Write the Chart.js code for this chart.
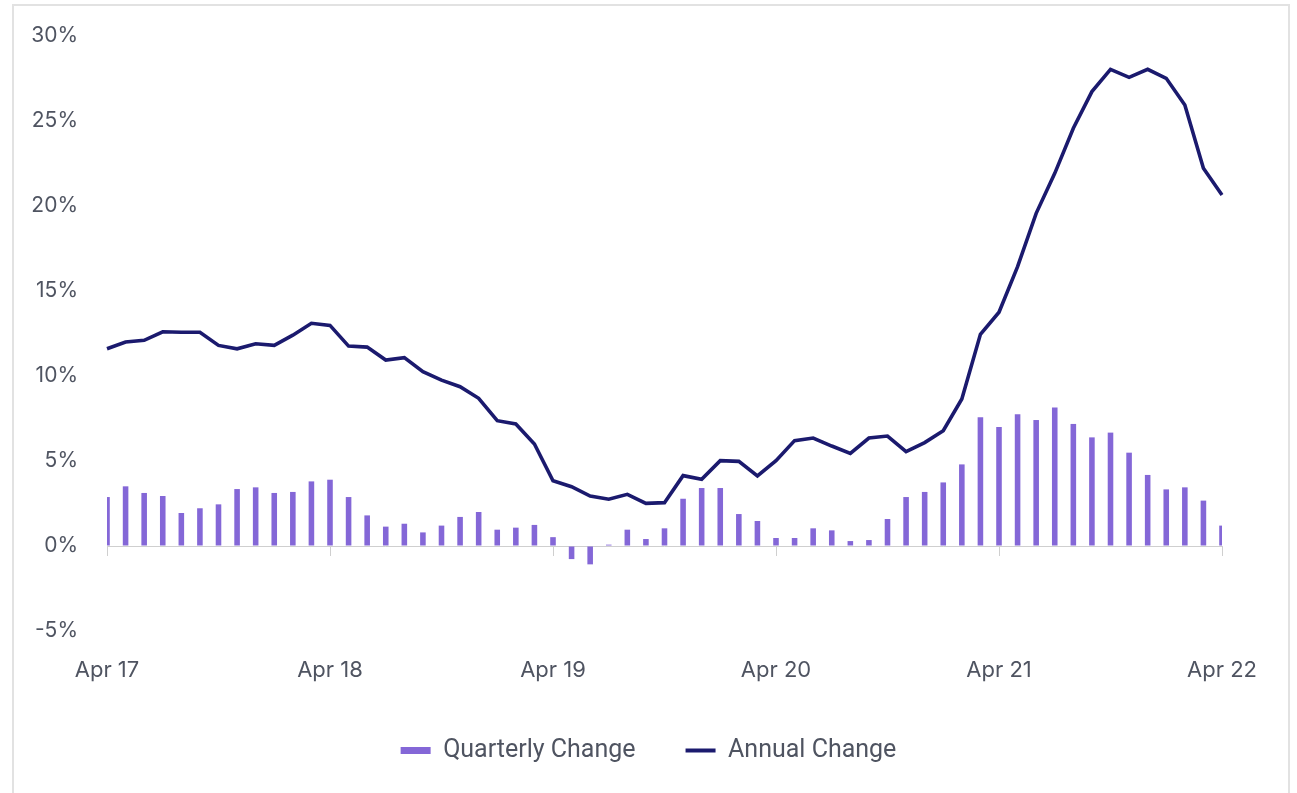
<!DOCTYPE html>
<html>
<head>
<meta charset="utf-8">
<script src="https://cdn.jsdelivr.net/npm/chart.js@4.4.1/dist/chart.umd.min.js"></script>
<style>
  html, body { margin: 0; padding: 0; background: #ffffff; overflow: hidden; }
  #wrap { position: relative; width: 1297px; height: 793px; }
  #frame { position: absolute; left: 12px; top: 4px; width: 1274px; height: 820px;
           border: 2px solid #e2e2e2; border-bottom: none; pointer-events: none; }
  canvas { position: absolute; left: 0; top: 0; }
</style>
</head>
<body>
<div id="wrap">
  <div id="frame"></div>
  <canvas id="c" width="1297" height="793"></canvas>
</div>
<script>
const months = [
  'Apr 17','May 17','Jun 17','Jul 17','Aug 17','Sep 17','Oct 17','Nov 17','Dec 17','Jan 18','Feb 18','Mar 18',
  'Apr 18','May 18','Jun 18','Jul 18','Aug 18','Sep 18','Oct 18','Nov 18','Dec 18','Jan 19','Feb 19','Mar 19',
  'Apr 19','May 19','Jun 19','Jul 19','Aug 19','Sep 19','Oct 19','Nov 19','Dec 19','Jan 20','Feb 20','Mar 20',
  'Apr 20','May 20','Jun 20','Jul 20','Aug 20','Sep 20','Oct 20','Nov 20','Dec 20','Jan 21','Feb 21','Mar 21',
  'Apr 21','May 21','Jun 21','Jul 21','Aug 21','Sep 21','Oct 21','Nov 21','Dec 21','Jan 22','Feb 22','Mar 22',
  'Apr 22'
];

const quarterlyChange = [
  2.88, 3.51, 3.12, 2.94, 1.94, 2.22, 2.45, 3.35, 3.45, 3.12, 3.18, 3.80,
  3.90, 2.88, 1.80, 1.14, 1.31, 0.80, 1.20, 1.71, 2.00, 0.96, 1.08, 1.24,
  0.52, -0.77, -1.08, 0.08, 0.96, 0.41, 1.04, 2.78, 3.41, 3.41, 1.88, 1.47,
  0.47, 0.47, 1.04, 0.92, 0.29, 0.35, 1.59, 2.88, 3.18, 3.74, 4.80, 7.57,
  7.00, 7.75, 7.41, 8.14, 7.18, 6.39, 6.67, 5.49, 4.18, 3.33, 3.45, 2.67,
  1.20
];

const annualChange = [
  11.60, 12.00, 12.10, 12.60, 12.57, 12.57, 11.80, 11.60, 11.90, 11.80, 12.40, 13.10,
  12.98, 11.76, 11.70, 10.94, 11.08, 10.25, 9.76, 9.37, 8.69, 7.37, 7.18, 6.00,
  3.84, 3.49, 2.94, 2.75, 3.04, 2.51, 2.55, 4.14, 3.92, 5.02, 4.98, 4.12,
  5.02, 6.20, 6.35, 5.88, 5.45, 6.35, 6.47, 5.55, 6.08, 6.78, 8.65, 12.45,
  13.75, 16.43, 19.57, 21.92, 24.57, 26.73, 28.04, 27.57, 28.04, 27.51, 25.94, 22.22,
  20.65
];

const yTicks = { min: -5, max: 30, step: 5 };
const seriesNames = ['Quarterly Change', 'Annual Change'];

const BAR_COLOR = '#8467d7';
const LINE_COLOR = '#1b1a6e';
const TEXT_COLOR = '#4f5461';
const AXIS_GRAY = '#cfcfcf';
const Y_FONT = { family: 'Inter, "Noto Sans", sans-serif', size: 21 };
const X_FONT = { family: 'Inter, "Noto Sans", sans-serif', size: 22 };

new Chart(document.getElementById('c'), {
  data: {
    labels: months,
    datasets: [
      {
        type: 'bar',
        label: seriesNames[0],
        data: quarterlyChange,
        backgroundColor: BAR_COLOR,
        borderWidth: 0,
        categoryPercentage: 1.0,
        barPercentage: 0.3,
        order: 2,
        xAxisID: 'x'
      },
      {
        type: 'line',
        label: seriesNames[1],
        data: annualChange,
        borderColor: LINE_COLOR,
        backgroundColor: LINE_COLOR,
        borderWidth: 3.6,
        pointRadius: 0,
        tension: 0,
        order: 1,
        xAxisID: 'x'
      }
    ]
  },
  options: {
    responsive: false,
    animation: false,
    layout: { padding: { left: 0, right: 0, top: 36, bottom: 20 } },
    plugins: {
      tooltip: { enabled: false },
      legend: {
        position: 'bottom',
        align: 'center',
        labels: {
          usePointStyle: true,
          pointStyleWidth: 30,
          padding: 50,
          color: TEXT_COLOR,
          font: { family: 'Roboto, "Noto Sans", sans-serif', size: 25 },
          sort: (a, b) => a.datasetIndex - b.datasetIndex,
          generateLabels: (chart) => {
            const items = Chart.defaults.plugins.legend.labels.generateLabels(chart);
            items.forEach(it => {
              it.pointStyle = 'line';
              if (it.datasetIndex === 0) {
                it.strokeStyle = BAR_COLOR;
                it.fillStyle = BAR_COLOR;
                it.lineWidth = 7;
              } else {
                it.strokeStyle = LINE_COLOR;
                it.fillStyle = LINE_COLOR;
                it.lineWidth = 4;
              }
              it.lineCap = 'butt';
              it.lineDash = [];
            });
            return items;
          }
        }
      }
    },
    scales: {
      x: {
        type: 'category',
        position: 'bottom',
        offset: false,
        grid: { display: false, drawTicks: false },
        border: { display: false },
        ticks: {
          autoSkip: false,
          maxRotation: 0,
          padding: 26,
          color: TEXT_COLOR,
          font: X_FONT,
          callback: function (value, index) {
            return index % 12 === 0 ? this.getLabelForValue(value) : null;
          }
        },
        afterFit: (scale) => { scale.height = 57; }
      },
      x2: {
        type: 'category',
        position: { y: 0 },
        offset: false,
        border: { display: false },
        grid: {
          drawOnChartArea: false,
          drawTicks: true,
          tickLength: 10,
          lineWidth: 1,
          color: (ctx) => (ctx.index % 12 === 0 ? AXIS_GRAY : 'rgba(0,0,0,0)')
        },
        ticks: { display: false, autoSkip: false }
      },
      y: {
        type: 'linear',
        position: 'left',
        min: yTicks.min,
        max: yTicks.max,
        border: { display: false },
        grid: {
          drawTicks: true,
          tickLength: 29,
          tickColor: 'rgba(0,0,0,0)',
          lineWidth: 1,
          color: (ctx) => (ctx.tick && ctx.tick.value === 0 ? AXIS_GRAY : 'rgba(0,0,0,0)')
        },
        ticks: {
          stepSize: yTicks.step,
          padding: 0,
          color: TEXT_COLOR,
          font: Y_FONT,
          callback: (v) => v + '%'
        },
        afterFit: (scale) => { scale.width = 107; }
      },
      yR: {
        type: 'linear',
        position: 'right',
        display: true,
        min: yTicks.min,
        max: yTicks.max,
        border: { display: false },
        grid: { display: false, drawTicks: false },
        ticks: { display: false },
        afterFit: (scale) => { scale.width = 75; }
      }
    }
  }
});
</script>
</body>
</html>
